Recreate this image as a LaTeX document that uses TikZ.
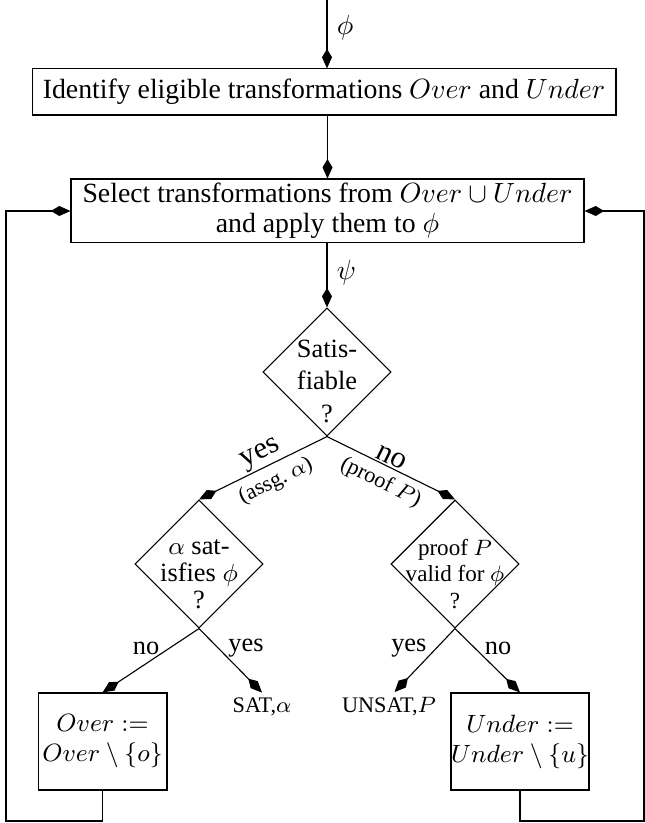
\documentclass[tikz,border=0pt]{standalone}
\usepackage{fontspec}
\setmainfont{Liberation Serif}
\usetikzlibrary{arrows.meta,shapes.geometric,calc}
\begin{document}
\begin{tikzpicture}[x=0.36pt,y=-0.36pt,
  tip/.style={-{Kite[length=7pt,width=3.6pt,inset=3pt]}},
  box/.style={draw,inner sep=0pt,align=center},
  dia/.style={draw,diamond,aspect=1,inner sep=0pt,minimum width=46.1pt,minimum height=46.1pt},
  dtext/.style={align=center,inner sep=0pt},
  toplbl/.style={font=\fontsize{11}{13}\selectfont,inner sep=0.6pt},
  sublbl/.style={font=\fontsize{8}{9.6}\selectfont,inner sep=2.5pt},
  botlbl/.style={font=\fontsize{9.5}{11}\selectfont},
  result/.style={font=\fontsize{8}{9.6}\selectfont,inner sep=1.5pt,anchor=base},
  ]
\useasboundingbox (0,0) rectangle (645,823);
\coordinate (top) at (327,0);
\node[box,minimum width=210.2pt,minimum height=16.6pt,font=\fontsize{10}{12}\selectfont] (id) at (324,92)
  {Identify eligible transformations $Over$ and $Under$};
\node[box,minimum width=184.7pt,minimum height=23pt,font=\fontsize{10}{10.8}\selectfont] (sel) at (327.5,211)
  {Select transformations from $Over \cup Under$\\and apply them to $\phi$};
\node[dia] (d1) at (327,372) {};
\node[dtext,font=\fontsize{9.5}{11.7}\selectfont] (d1t) at ($(d1)+(0,9)$) {Satis-\\fiable\\?};
\node[dia] (d2) at (199,564) {};
\node[dtext,font=\fontsize{9.5}{9.7}\selectfont] (d2t) at ($(d2)+(0,10)$) {$\alpha$ sat-\\isfies $\phi$\\?};
\node[dia] (d3) at (455,564) {};
\node[dtext,font=\fontsize{8.3}{9.7}\selectfont] (d3t) at ($(d3)+(0,10)$) {proof $P$\\valid for $\phi$\\?};
\node[box,minimum width=46.4pt,minimum height=34.9pt,font=\fontsize{9}{10.8}\selectfont] (over) at (102.5,741.5)
  {$Over :=$\\$Over \setminus \{o\}$};
\node[box,minimum width=46.1pt,minimum height=34.9pt,font=\fontsize{9}{10.8}\selectfont] (under) at (520,741.5)
  {$Under :=$\\$Under \setminus \{u\}$};
\node[result] (sat) at (262,712) {SAT,$\alpha$};
\node[result] (unsat) at (389,712) {UNSAT,$P$};
\coordinate (bl) at (6,821);
\coordinate (br) at (644,821);

\draw[tip] (top) -- node[right,pos=0.4]{$\phi$} (top |- id.north);
\draw[tip] (sel.north |- id.south) -- (sel.north);
\draw[tip] (d1.north |- sel.south) -- node[right,pos=0.45]{$\psi$} (d1.north);
\draw[tip] (d1.south) -- node[toplbl,sloped,above,pos=0.47]{yes}
  node[sublbl,sloped,below,pos=0.46]{(assg.~$\alpha$)} (d2.north);
\draw[tip] (d1.south) -- node[toplbl,sloped,above,pos=0.47]{no}
  node[sublbl,sloped,below,pos=0.48]{(proof $P$)} (d3.north);
\draw[tip] (d2.south) -- node[botlbl,left,pos=0.31]{no} (over.north);
\draw[tip] (d2.south) -- node[botlbl,right,pos=0.31]{yes} (sat.north);
\draw[tip] (d3.south) -- node[botlbl,left,pos=0.31]{yes} ([xshift=2pt]unsat.north);
\draw[tip] (d3.south) -- node[botlbl,right,pos=0.31]{no} (under.north);
\draw[tip] (over.south) |- (bl) |- (sel.west);
\draw[tip] (under.south) |- (br) |- (sel.east);
\end{tikzpicture}
\end{document}
